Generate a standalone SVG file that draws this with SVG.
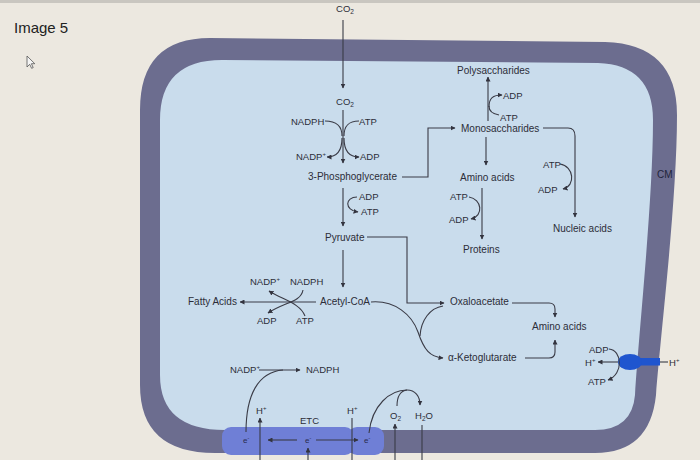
<svg xmlns="http://www.w3.org/2000/svg" width="700" height="460" viewBox="0 0 700 460">
<defs>
<marker id="ah" viewBox="0 0 10 10" refX="9" refY="5" markerWidth="5" markerHeight="5" orient="auto" markerUnits="userSpaceOnUse">
<path d="M0,0 L10,5 L0,10 Z" fill="#33343f"/>
</marker>
<style>
text{font-family:"Liberation Sans",Arial,sans-serif;font-size:10px;fill:#2c2d38}
.s{font-size:9.5px}
.e{font-size:8px;fill:#2a2c50}
.c path,.c line{fill:none;stroke:#3a3b46;stroke-width:1.1}
.a{marker-end:url(#ah)}
</style>
</defs>
<rect x="0" y="0" width="700" height="460" fill="#ece8e0"/>
<rect x="0" y="0" width="700" height="3" fill="#c9c6c0"/>
<g id="title"><text x="14" y="33" style="font-size:15px;fill:#222">Image 5</text></g>
<g id="cursor"><path d="M27,56 L27,67 L29.7,64.3 L31.6,68.3 L33.2,67.6 L31.4,63.7 L34.8,63.7 Z" fill="#f4f4f4" stroke="#555" stroke-width="0.8"/></g>
<g id="cell">
<path d="M210,38 L605,42 Q677,44 677,115 C677,200 661,330 656,395 Q650,453 595,453 L215,453 Q140,453 140,385 L140,110 Q140,38 210,38 Z" fill="#6c6d8f"/>
<path d="M222,60 L598,63 Q653,65 653,120 C653,200 639,330 635,395 Q632,430 595,430 L225,430 Q160,430 160,375 L160,120 Q160,60 222,60 Z" fill="#c9dcec"/>
<text x="657" y="178" style="fill:#22243a">CM</text>
</g>
<g id="etc">
<rect x="222" y="427" width="132" height="28" rx="9" fill="#6f7fd6"/>
<rect x="348" y="427" width="36" height="28" rx="9" fill="#6f7fd6"/>
<text x="300" y="424" class="s">ETC</text>
</g>
<g id="pump">
<rect x="637" y="358" width="23" height="7.5" fill="#1f55cf"/>
<ellipse cx="630" cy="362" rx="12" ry="8" fill="#1f55cf"/>
</g>
<g class="c" id="connectors">
<path class="a" d="M343,20 V88"/>
<path class="a" d="M343,110 V163"/>
<path d="M325,121 C336,121 342,126 342,136"/>
<path d="M359,121 C348,121 344,126 344,136"/>
<path class="a" d="M342,138 C342,150 337,157 327,157"/>
<path class="a" d="M344,138 C344,150 349,157 359,157"/>
<path class="a" d="M402,177 H428 V128 H455"/>
<path class="a" d="M343,188 V226"/>
<path class="a" d="M357,197 C345,197 344,210 358,212"/>
<path class="a" d="M367,237 H407 V303 H444"/>
<path class="a" d="M343,250 V287"/>
<path class="a" d="M316,302 H240"/>
<path class="a" d="M303,290 C301,302 285,302 268,313"/>
<path class="a" d="M305,316 C300,303 283,300 269,291"/>
<path class="a" d="M371,302 C395,300 412,315 418,332 C424,350 430,357 443,358"/>
<path d="M443,306 C430,308 421,320 420,336"/>
<path class="a" d="M512,303 H549 Q555,303 555,309 V317"/>
<path class="a" d="M525,358 H549 Q555,358 555,352 V340"/>
<path class="a" d="M488,121 V77"/>
<path class="a" d="M489,107 C489,98 493,95 502,95"/>
<path d="M499,115 C493,114 489,111 489,106"/>
<path class="a" d="M486,137 V165"/>
<path class="a" d="M543,128 H568 Q575,128 575,136 V217"/>
<path class="a" d="M560,164 C574,166 576,186 563,189"/>
<path class="a" d="M482,188 V239"/>
<path class="a" d="M469,197 C482,199 484,216 471,219"/>
<path class="a" d="M259,370 H300"/>
<path d="M246,432 C246,395 258,372 283,370"/>
<path class="a" d="M260,460 V418"/>
<path class="a" d="M297,440 H268"/>
<path class="a" d="M316,440 H358"/>
<path class="a" d="M308,460 V448"/>
<path d="M352,418 V460"/>
<path class="a" d="M395,460 V424"/>
<path d="M422,425 V460"/>
<path class="a" d="M369,433 C372,405 390,390 407,390 C415,390 420,396 420,405"/>
<path d="M397,406 C397,396 400,391 407,390"/>
<path class="a" d="M618,362 H598"/>
<path d="M660,362 H668"/>
<path class="a" d="M609,349 C622,350 624,374 608,380"/>
</g>
<g id="co2-out"><text x="345" y="12" text-anchor="middle" class="s">CO<tspan font-size="6.5" dy="2">2</tspan></text></g>
<g id="co2-in"><text x="345" y="105" text-anchor="middle" class="s">CO<tspan font-size="6.5" dy="2">2</tspan></text></g>
<g id="nadph1"><text x="291" y="125" class="s">NADPH</text></g>
<g id="atp1"><text x="359" y="125" class="s">ATP</text></g>
<g id="nadp1"><text x="296" y="160" class="s">NADP<tspan font-size="6" dy="-4">+</tspan></text></g>
<g id="adp1"><text x="360" y="160" class="s">ADP</text></g>
<g id="pga"><text x="308" y="180">3-Phosphoglycerate</text></g>
<g id="adp2"><text x="359" y="200" class="s">ADP</text></g>
<g id="atp2"><text x="361" y="215" class="s">ATP</text></g>
<g id="pyruvate"><text x="325" y="241">Pyruvate</text></g>
<g id="nadp2"><text x="250" y="285" class="s">NADP<tspan font-size="6" dy="-4">+</tspan></text></g>
<g id="nadph2"><text x="290" y="285" class="s">NADPH</text></g>
<g id="fatty"><text x="188" y="305">Fatty Acids</text></g>
<g id="acetyl"><text x="320" y="305">Acetyl-CoA</text></g>
<g id="adp3"><text x="257" y="324" class="s">ADP</text></g>
<g id="atp3"><text x="296" y="324" class="s">ATP</text></g>
<g id="oxalo"><text x="450" y="305">Oxaloacetate</text></g>
<g id="akg"><text x="448" y="361">α-Ketoglutarate</text></g>
<g id="aa2"><text x="532" y="330">Amino acids</text></g>
<g id="poly"><text x="457" y="74">Polysaccharides</text></g>
<g id="adp4"><text x="503" y="99" class="s">ADP</text></g>
<g id="atp4"><text x="500" y="121" class="s">ATP</text></g>
<g id="mono"><text x="461" y="132">Monosaccharides</text></g>
<g id="aa1"><text x="460" y="181">Amino acids</text></g>
<g id="atp5"><text x="543" y="168" class="s">ATP</text></g>
<g id="adp5"><text x="538" y="193" class="s">ADP</text></g>
<g id="nucleic"><text x="553" y="232">Nucleic acids</text></g>
<g id="atp6"><text x="450" y="200" class="s">ATP</text></g>
<g id="adp6"><text x="449" y="223" class="s">ADP</text></g>
<g id="proteins"><text x="463" y="253">Proteins</text></g>
<g id="nadp3"><text x="230" y="373" class="s">NADP<tspan font-size="6" dy="-4">+</tspan></text></g>
<g id="nadph3"><text x="306" y="373" class="s">NADPH</text></g>
<g id="h1"><text x="256" y="414" class="s">H<tspan font-size="6" dy="-4">+</tspan></text></g>
<g id="h2"><text x="347" y="414" class="s">H<tspan font-size="6" dy="-4">+</tspan></text></g>
<g id="e1"><text x="243" y="443" class="e">e<tspan font-size="5.5" dy="-3">-</tspan></text></g>
<g id="e2"><text x="305" y="443" class="e">e<tspan font-size="5.5" dy="-3">-</tspan></text></g>
<g id="e3"><text x="364" y="443" class="e">e<tspan font-size="5.5" dy="-3">-</tspan></text></g>
<g id="o2"><text x="390" y="419" class="s">O<tspan font-size="6.5" dy="2">2</tspan></text></g>
<g id="h2o"><text x="415" y="419" class="s">H<tspan font-size="6.5" dy="2">2</tspan><tspan dy="-2">O</tspan></text></g>
<g id="adp7"><text x="589" y="353" class="s">ADP</text></g>
<g id="h3"><text x="585" y="366" class="s">H<tspan font-size="6" dy="-4">+</tspan></text></g>
<g id="atp7"><text x="588" y="385" class="s">ATP</text></g>
<g id="h4"><text x="669" y="366" class="s">H<tspan font-size="6" dy="-4">+</tspan></text></g>
</svg>
